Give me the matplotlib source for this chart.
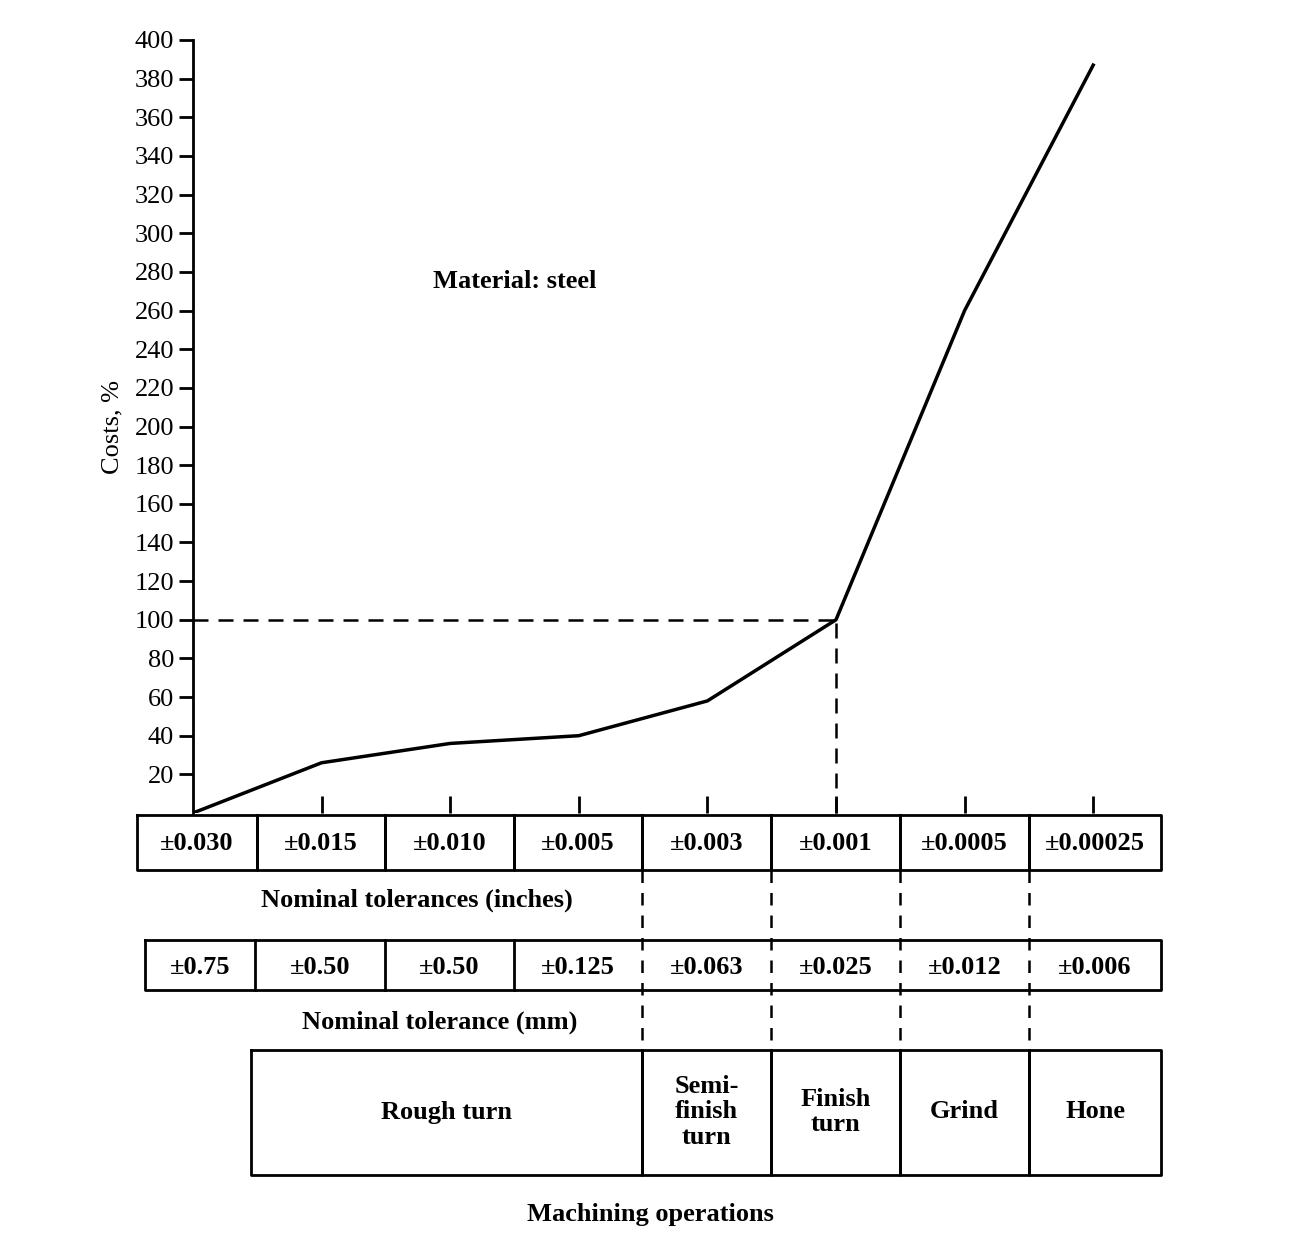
import matplotlib
matplotlib.use("Agg")
import matplotlib.pyplot as plt

ops_x = [0, 1, 2, 3, 4, 5, 6, 7]
costs = [0, 26, 36, 40, 58, 100, 260, 387]
tol_in = ["±0.030", "±0.015", "±0.010", "±0.005", "±0.003", "±0.001", "±0.0005", "±0.00025"]
tol_mm = ["±0.75", "±0.50", "±0.50", "±0.125", "±0.063", "±0.025", "±0.012", "±0.006"]
operations = ["Rough turn", "Semi-\nfinish\nturn", "Finish\nturn", "Grind", "Hone"]
yticks = list(range(20, 401, 20))

plt.rcParams['font.family'] = ['Liberation Serif', 'DejaVu Serif']
W, H = 1296, 1260
fig = plt.figure(figsize=(W/100, H/100), dpi=100)

def fx(p): return p / W
def fy(p): return 1 - p / H

ax = fig.add_axes([fx(193), fy(813), fx(1160) - fx(193), fy(40) - fy(813)])
ax.plot(ops_x, costs, color='black', lw=2.5)
ax.set_xlim(0, (1160 - 193) / 128.6)
ax.set_ylim(0, 400)
for s in ['top', 'right', 'bottom']:
    ax.spines[s].set_visible(False)
ax.spines['left'].set_linewidth(2)
ax.set_yticks(yticks)
ax.set_yticklabels([str(v) for v in yticks], fontsize=19)
ax.set_xticks(ops_x[1:])
ax.set_xticklabels([])
ax.tick_params(axis='x', direction='in', length=12, width=2, pad=0)
ax.tick_params(axis='y', length=10, width=2)
ax.plot([0, 5], [100, 100], ls=(0, (6, 4)), color='black', lw=1.8)
ax.plot([5, 5], [0, 100], ls=(0, (6, 4)), color='black', lw=1.8, clip_on=False)
ax.text(2.5, 275, "Material: steel", fontsize=19, ha='center', va='center', weight='bold')
ax.set_ylabel("Costs, %", fontsize=19, labelpad=8)

ov = fig.add_axes([0, 0, 1, 1])
ov.set_xlim(0, W); ov.set_ylim(H, 0); ov.axis('off')

def box(x0, x1, y0, y1):
    ov.plot([x0, x1, x1, x0, x0], [y0, y0, y1, y1, y0], color='black', lw=2)

b1 = [137, 257, 385, 514, 642, 771, 900, 1029, 1161]
for i in range(8):
    box(b1[i], b1[i+1], 815, 870)
    ov.text((b1[i]+b1[i+1])/2, 843, tol_in[i], ha='center', va='center', fontsize=19, weight='bold')
ov.text(417, 900, "Nominal tolerances (inches)", ha='center', va='center', fontsize=19, weight='bold')

b2 = [145, 255, 385, 514, 642, 771, 900, 1029, 1161]
ov.plot([145, 1161, 1161, 145, 145], [940, 940, 990, 990, 940], color='black', lw=2)
for i, x in enumerate(b2[1:-1]):
    if x < 600:
        ov.plot([x, x], [940, 990], color='black', lw=2)
for i in range(8):
    ov.text((b2[i]+b2[i+1])/2, 968, tol_mm[i], ha='center', va='center', fontsize=19, weight='bold')
ov.text(440, 1022, "Nominal tolerance (mm)", ha='center', va='center', fontsize=19, weight='bold')

for x in [642, 771, 900, 1029]:
    ov.plot([x, x], [870, 1050], ls=(0, (5, 4)), color='black', lw=1.8)

b3 = [251, 642, 771, 900, 1029, 1161]
for i in range(5):
    box(b3[i], b3[i+1], 1050, 1175)
    ov.text((b3[i]+b3[i+1])/2, 1112, operations[i], ha='center', va='center', fontsize=19,
            weight='bold', linespacing=1.15)
ov.text(650, 1215, "Machining operations", ha='center', va='center', fontsize=19, weight='bold')

fig.savefig("out.png", dpi=100)
